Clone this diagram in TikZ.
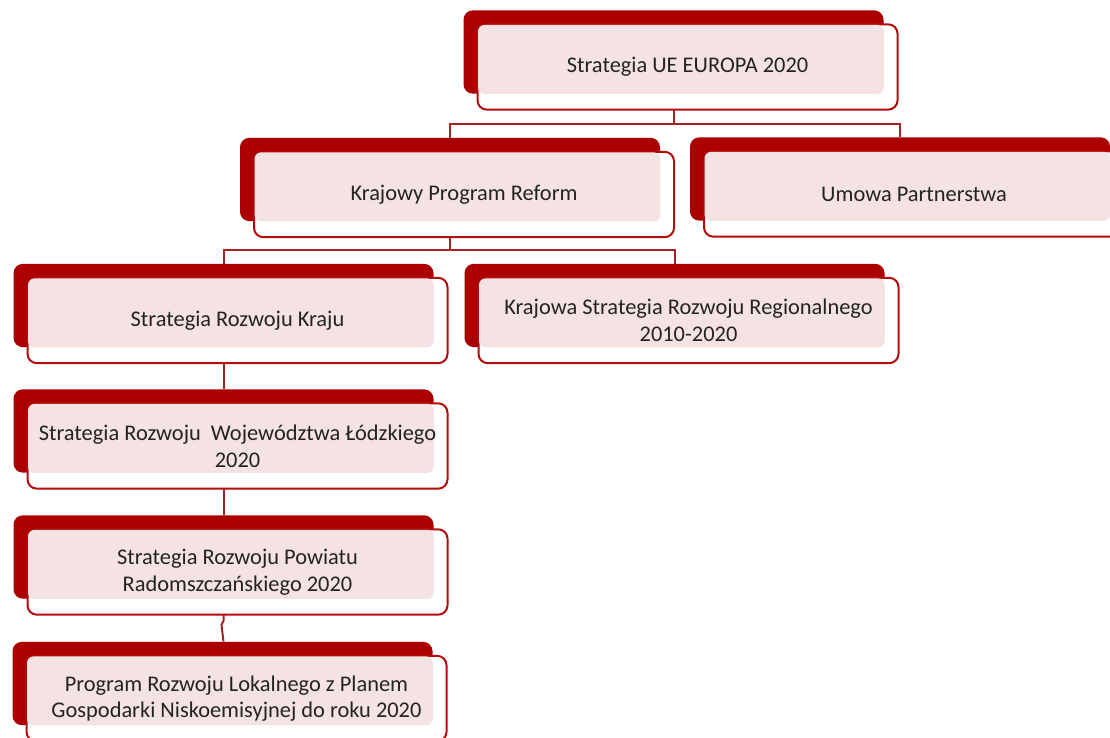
\documentclass[tikz,border=0pt]{standalone}
\usepackage{fontspec}
\setmainfont{Carlito}
\usetikzlibrary{positioning,calc}

\definecolor{ciemnyczerw}{RGB}{172,0,0}
\definecolor{ramka}{RGB}{180,12,12}
\definecolor{linia}{RGB}{165,35,35}
\definecolor{rozowy}{RGB}{245,227,227}
\definecolor{tekst}{RGB}{35,35,35}

\tikzset{
  tyl/.style={rectangle, rounded corners=7, fill=ciemnyczerw,
    minimum width=315pt, minimum height=62.5pt, inner sep=0pt},
  przod/.style={rectangle, rounded corners=7, draw=ramka, line width=1.5pt,
    fill=white, minimum width=315pt, minimum height=64pt, inner sep=0pt},
  roz/.style={fill=rozowy, rounded corners=5},
  napis/.style={align=center, text=tekst, font=\fontsize{16.8}{20}\selectfont},
  polacz/.style={draw=linia, line width=1.5pt}
}

\begin{document}
\begin{tikzpicture}[x=0.75pt, y=-0.75pt]
   \useasboundingbox (0,0) rectangle (1110,738);

   % tylne prostokaty
   \node[tyl] (ue)  at (673.5,52)  {};
   \node[tyl] (krp) at (450,179.5) {};
   \node[tyl] (um)  at (900,179)   {};
   \node[tyl] (srk) at (223.5,305.5) {};
   \node[tyl] (ksr) at (674.5,305.5) {};
   \node[tyl] (srw) at (223.5,431) {};
   \node[tyl] (srp) at (223.5,557) {};
   \node[tyl] (prl) at (222.5,683.5) {};

   % polaczenia
   \draw[polacz] (ue.south) -- ++(0,30) -| (krp.north);
   \draw[polacz] (ue.south) -- ++(0,30) -| (um.north);
   \draw[polacz] (krp.south) -- ++(0,29) -| (srk.north);
   \draw[polacz] (krp.south) -- ++(0,29) -| (ksr.north);
   \draw[polacz] (srk.south) -- (srw.north);
   \draw[polacz] (srw.south) -- (srp.north);
   \draw[polacz] (srp.south) -- ++(0,22) -- ++(-2,4) -- (srp.south |- prl.north);

   % przednie prostokaty z tekstem
   \foreach \n/\t in {ue/{Strategia UE EUROPA 2020},
         krp/{Krajowy Program Reform},
         um/{Umowa Partnerstwa},
         srk/{Strategia Rozwoju Kraju},
         ksr/{Krajowa Strategia Rozwoju Regionalnego\\2010-2020},
         srw/{Strategia Rozwoju \ Województwa Łódzkiego\\2020},
         srp/{Strategia Rozwoju Powiatu\\Radomszczańskiego 2020},
         prl/{Program Rozwoju Lokalnego z Planem\\Gospodarki Niskoemisyjnej do roku 2020}} {
      \node[przod] (\n-p) at ([shift={(14,15)}]\n) {};
      \fill[roz] ([shift={(1.5,1.5)}]\n-p.north west) rectangle (\n.south east);
      \node[napis] (\n-t) at (\n-p) {\t};
   }
\end{tikzpicture}
\end{document}
